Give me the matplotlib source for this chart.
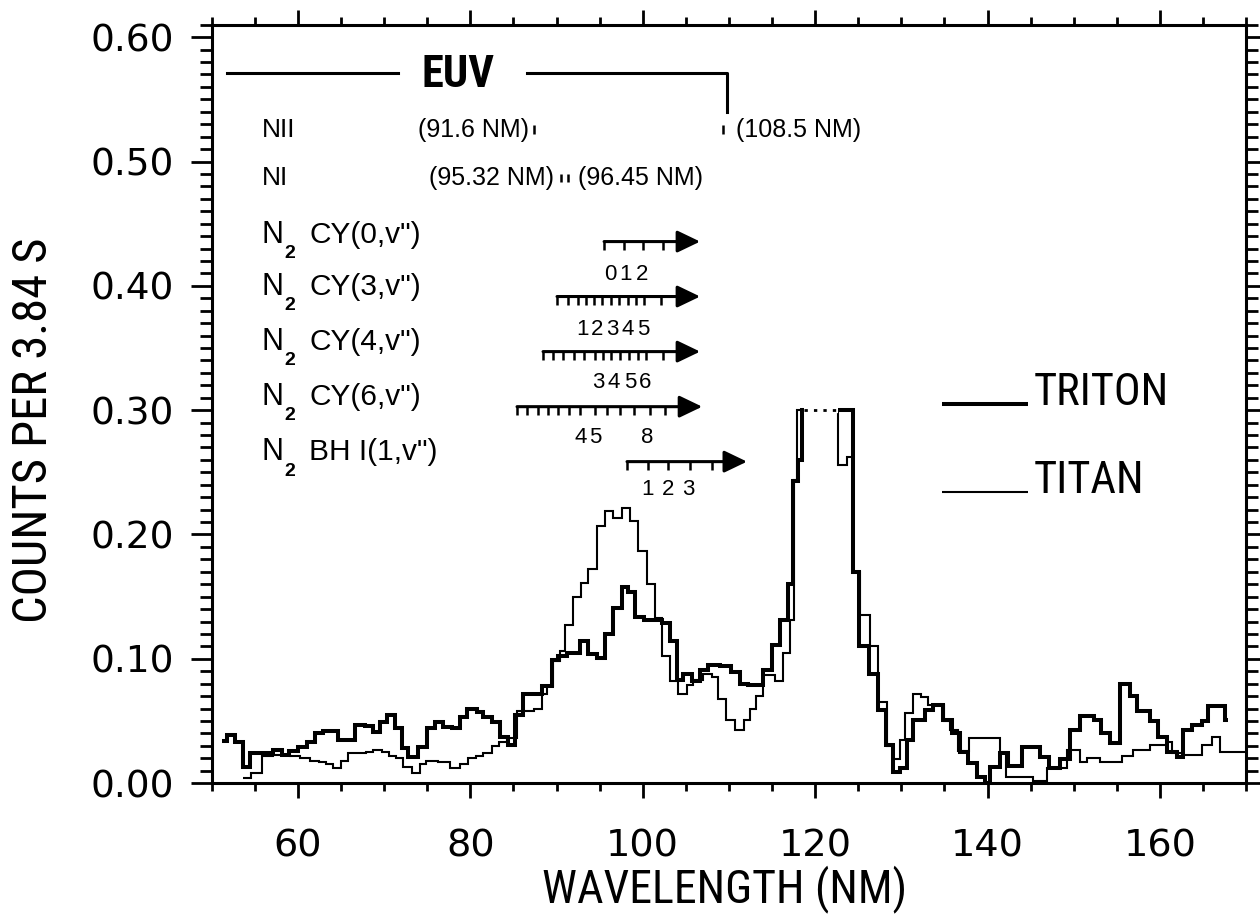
import matplotlib
matplotlib.use("Agg")
import matplotlib.pyplot as plt
from matplotlib import font_manager
from matplotlib.ticker import MultipleLocator, FormatStrFormatter

# spectra: left channel edges (nm) + final edge, counts per 3.84 s
triton_edges = [51.16, 51.74, 52.70, 53.60, 54.44, 57.15, 58.12, 59.00, 60.05, 61.02,
                61.98, 62.95, 64.69, 66.62, 67.78, 68.75, 69.52, 70.30, 71.26, 72.04,
                72.81, 73.97, 74.93, 75.90, 76.87, 77.83, 78.80, 79.57, 80.73, 81.50,
                82.47, 83.44, 84.40, 85.19, 86.15, 88.28, 89.44, 90.21, 91.18, 92.73,
                93.70, 94.66, 95.63, 96.60, 97.56, 98.33, 99.10, 100.20, 102.20, 103.17,
                103.94, 104.71, 105.68, 106.65, 107.61, 108.97, 110.20, 111.29, 112.26, 114.00,
                114.96, 115.93, 116.90, 117.48, 118.06, 118.45, 124.45, 125.10, 126.30, 127.30,
                128.20, 129.00, 129.86, 130.63, 131.39, 132.75, 133.71, 134.87, 135.85, 136.81,
                137.77, 138.75, 139.70, 140.30, 141.45, 142.40, 144.00, 146.10, 147.10, 148.40,
                149.60, 150.70, 152.30, 153.20, 154.20, 155.40, 156.50, 157.30, 158.85, 159.80,
                160.80, 162.00, 162.70, 163.70, 164.85, 165.60, 167.55, 167.90]
triton_counts = [0.034, 0.039, 0.033, 0.013, 0.024, 0.027, 0.023, 0.026, 0.029, 0.033,
                 0.040, 0.042, 0.035, 0.047, 0.046, 0.041, 0.049, 0.055, 0.044, 0.028,
                 0.021, 0.029, 0.044, 0.049, 0.045, 0.044, 0.053, 0.060, 0.057, 0.053,
                 0.049, 0.037, 0.031, 0.055, 0.072, 0.078, 0.099, 0.102, 0.105, 0.114,
                 0.104, 0.101, 0.120, 0.141, 0.158, 0.154, 0.134, 0.131, 0.129, 0.114,
                 0.083, 0.088, 0.082, 0.091, 0.095, 0.094, 0.089, 0.080, 0.079, 0.091,
                 0.111, 0.131, 0.160, 0.243, 0.260, 0.300, 0.170, 0.110, 0.088, 0.059,
                 0.031, 0.009, 0.012, 0.035, 0.051, 0.059, 0.063, 0.051, 0.040, 0.025,
                 0.016, 0.005, 0.000, 0.013, 0.024, 0.014, 0.029, 0.021, 0.012, 0.019,
                 0.043, 0.054, 0.051, 0.040, 0.032, 0.080, 0.070, 0.058, 0.050, 0.037,
                 0.025, 0.021, 0.043, 0.047, 0.050, 0.062, 0.051]

titan_edges = [53.60, 54.60, 55.80, 57.15, 59.10, 60.20, 61.40, 62.40, 63.30, 64.10,
               65.00, 65.80, 67.90, 68.70, 69.70, 70.60, 71.40, 72.20, 73.20, 74.20,
               74.90, 76.30, 77.60, 78.80, 79.70, 80.70, 81.50, 82.50, 83.30, 84.30,
               85.40, 87.40, 88.30, 88.90, 89.60, 90.40, 91.00, 91.95, 92.90, 93.70,
               94.66, 95.63, 96.60, 97.56, 98.50, 99.50, 100.45, 101.40, 102.20, 103.20,
               104.10, 105.10, 105.80, 107.00, 108.00, 108.70, 109.70, 110.70, 111.70, 112.45,
               113.20, 114.00, 115.30, 116.30, 117.10, 117.50, 117.90, 122.70, 123.70, 124.45,
               125.20, 126.40, 127.30, 128.30, 129.00, 129.86, 130.44, 131.39, 132.30, 133.10,
               134.90, 135.70, 136.60, 137.80, 141.45, 142.20, 145.30, 146.90, 149.20, 150.70,
               151.50, 153.05, 155.60, 156.90, 158.85, 160.80, 161.40, 162.70, 164.85, 166.00,
               167.00, 169.90]
titan_counts = [0.004, 0.008, 0.022, 0.023, 0.022, 0.020, 0.018, 0.017, 0.015, 0.012,
                0.018, 0.024, 0.025, 0.027, 0.025, 0.022, 0.020, 0.013, 0.008, 0.015,
                0.018, 0.017, 0.012, 0.015, 0.020, 0.022, 0.024, 0.030, 0.033, 0.036,
                0.058, 0.060, 0.072, 0.078, 0.098, 0.106, 0.127, 0.150, 0.161, 0.172,
                0.207, 0.219, 0.213, 0.221, 0.211, 0.187, 0.160, 0.133, 0.102, 0.082,
                0.072, 0.079, 0.083, 0.088, 0.085, 0.068, 0.051, 0.043, 0.051, 0.060,
                0.070, 0.087, 0.082, 0.105, 0.131, 0.244, 0.300, 0.256, 0.262, 0.170,
                0.135, 0.110, 0.065, 0.030, 0.019, 0.035, 0.056, 0.072, 0.069, 0.063,
                0.050, 0.043, 0.026, 0.036, 0.024, 0.005, 0.002, 0.012, 0.027, 0.017,
                0.020, 0.017, 0.022, 0.027, 0.031, 0.033, 0.024, 0.023, 0.031, 0.037,
                0.025]
clip_level = 0.30  # Lyman alpha is cut off here in the plot

x_major = [60, 80, 100, 120, 140, 160]
y_major = [0.00, 0.10, 0.20, 0.30, 0.40, 0.50, 0.60]

# N2 band rulers: label, arrow start, arrow tip, tick positions, numbered ticks
band_labels = ['CY(0,v")', 'CY(3,v")', 'CY(4,v")', 'CY(6,v")', 'BH I(1,v")']
band_ticks = [
    [95.52, 97.84, 100.0, 102.37],
    [90.06, 91.3, 92.5, 93.4, 94.36, 95.3, 96.33, 97.3, 98.3, 99.2, 100.16, 102.1, 104.0],
    [88.44, 89.6, 90.8, 92.0, 93.2, 94.47, 95.4, 96.38, 97.4, 98.41, 99.4, 100.38, 102.3, 104.2],
    [85.42, 86.6, 87.8, 89.0, 90.2, 91.4, 92.67, 94.41, 95.9, 97.4, 99.0, 100.79, 102.6, 104.4],
    [98.18, 100.6, 102.93, 105.48, 108.0],
]
band_numbers = [
    [('0', 96.2), ('1', 98.0), ('2', 99.9)],
    [('1', 93.0), ('2', 94.7), ('3', 96.5), ('4', 98.3), ('5', 100.1)],
    [('3', 94.8), ('4', 96.6), ('5', 98.5), ('6', 100.3)],
    [('4', 92.8), ('5', 94.5), ('8', 100.5)],
    [('1', 100.6), ('2', 102.93), ('3', 105.3)],
]
arrow_start = [95.52, 90.06, 88.44, 85.42, 98.18]
arrow_tip = [106.66, 106.66, 106.66, 106.9, 112.1]
arrow_y = [0.4356, 0.3914, 0.3471, 0.3028, 0.2586]
row_base = [0.4346, 0.3927, 0.3485, 0.3042, 0.2599]
number_y = [0.4088, 0.3650, 0.3219, 0.2784, 0.2358]


def _weight(f):
    w = f.weight
    if isinstance(w, str):
        w = font_manager.weight_dict.get(w, 400)
    return w


def condensed(size, bold=False):
    """Narrow sans like the plotter lettering; plain Liberation Sans scaled down if none."""
    found = {}
    for f in font_manager.fontManager.ttflist:
        nm = f.name.lower()
        narrow = 'narrow' in nm or 'condensed' in nm or str(f.stretch) in ('condensed', 'semi-condensed')
        if narrow and f.style == 'normal' and (_weight(f) >= 600) == bold and 'light' not in nm:
            found.setdefault(f.name, f.fname)
    for pref in ['Liberation Sans Narrow', 'Roboto Condensed', 'DejaVu Sans Condensed',
                 'DejaVu Sans', 'Open Sans Condensed', 'Noto Sans']:
        if pref in found:
            return font_manager.FontProperties(fname=found[pref], size=size)
    if found:
        return font_manager.FontProperties(fname=sorted(found.values())[0], size=size)
    return font_manager.FontProperties(family='Liberation Sans', size=size * 0.84,
                                       weight='bold' if bold else 'normal')


plain = 'Liberation Sans'

fig = plt.figure(figsize=(12.6, 9.17), dpi=100)
ax = fig.add_axes([0.168, 0.146, 0.821, 0.827])

ax.stairs(titan_counts, titan_edges, baseline=None, color='black', linewidth=1.5)
ax.stairs(triton_counts, triton_edges, baseline=None, color='black', linewidth=2.9)


# where both spectra are off scale the flat top is dotted
def off_scale(edges, counts):
    idx = [i for i, c in enumerate(counts) if c >= clip_level]
    return edges[idx[0]], edges[idx[-1] + 1]


a = off_scale(triton_edges, triton_counts)
b = off_scale(titan_edges, titan_counts)
lo, hi = max(a[0], b[0]) + 0.3, min(a[1], b[1])
ax.plot([lo, hi], [clip_level, clip_level], color='white', lw=4.5, solid_capstyle='butt', zorder=3)
ax.plot([lo, hi], [clip_level, clip_level], color='black', lw=2, ls=(0, (1.2, 2.2)), zorder=4)

ax.set_xlim(50, 170)
ax.set_ylim(0, 0.61)
ax.set_xticks(x_major)
ax.set_yticks(y_major)
ax.xaxis.set_minor_locator(MultipleLocator(5))
ax.yaxis.set_minor_locator(MultipleLocator(0.01))
ax.yaxis.set_major_formatter(FormatStrFormatter('%.2f'))
ax.tick_params(axis='x', which='both', direction='out', top=True, width=2, labelsize=27.5, pad=22)
ax.tick_params(axis='x', which='major', length=11)
ax.tick_params(axis='x', which='minor', length=6)
ax.tick_params(axis='y', which='both', direction='out', right=True, width=2, labelsize=27, pad=12)
ax.tick_params(axis='y', which='major', length=15)
ax.tick_params(axis='y', which='minor', length=8.5)
for s in ax.spines.values():
    s.set_linewidth(2.2)

fig.text(0.5754, 0.016, 'WAVELENGTH (NM)', fontproperties=condensed(33),
         ha='center', va='baseline')
fig.text(0.0373, 0.531, 'COUNTS PER 3.84 S', fontproperties=condensed(35), rotation=90,
         rotation_mode='anchor', ha='center', va='baseline')

# EUV bracket
ax.plot([51.75, 71.64], [0.571, 0.571], color='black', lw=2.2)
ax.text(78.6, 0.5601, 'EUV', fontproperties=condensed(32, bold=True), ha='center', va='baseline')
ax.plot([86.58, 109.78, 109.78], [0.571, 0.571, 0.540], color='black', lw=2.2)

# atomic lines
ax.text(55.8, 0.5199, 'NII', family=plain, size=19, va='baseline')
ax.text(73.9, 0.5199, '(91.6 NM)', family=plain, size=18, va='baseline')
ax.text(110.8, 0.5199, '(108.5 NM)', family=plain, size=18, va='baseline')
ax.vlines([87.4, 109.3], 0.5225, 0.5290, color='black', lw=1.8)
ax.text(55.8, 0.4812, 'NI', family=plain, size=19, va='baseline')
ax.text(75.2, 0.4812, '(95.32 NM)', family=plain, size=18, va='baseline')
ax.text(92.5, 0.4812, '(96.45 NM)', family=plain, size=18, va='baseline')
ax.vlines([90.53, 91.34], 0.4838, 0.4903, color='black', lw=1.8)

# N2 band progressions
for i in range(len(band_labels)):
    yb = row_base[i]
    ax.text(55.8, yb, 'N', family=plain, size=22, va='baseline')
    ax.text(58.4, yb - 0.0125, '2', family=plain, size=14, weight='bold', va='baseline')
    ax.text(61.3, yb, band_labels[i], family=plain, size=21.5, va='baseline')
    ya = arrow_y[i]
    ax.annotate('', xy=(arrow_tip[i], ya), xytext=(arrow_start[i], ya),
                arrowprops=dict(arrowstyle='-|>,head_length=0.5,head_width=0.24',
                                mutation_scale=28, lw=2.2, color='black',
                                shrinkA=0, shrinkB=0))
    ax.vlines(band_ticks[i], ya - 0.0065, ya, color='black', lw=1.8)
    for num, xn in band_numbers[i]:
        ax.text(xn, number_y[i], num, family=plain, size=16, ha='center', va='center')

# legend drawn as in the original: line ending at the label baseline
ax.plot([134.69, 144.73], [0.305, 0.305], color='black', lw=2.9, solid_capstyle='butt')
ax.text(145.4, 0.304, 'TRITON', fontproperties=condensed(32), va='baseline')
ax.plot([134.69, 144.73], [0.2344, 0.2344], color='black', lw=1.5, solid_capstyle='butt')
ax.text(145.4, 0.2336, 'TITAN', fontproperties=condensed(32), va='baseline')

fig.savefig('out.png', dpi=100)
